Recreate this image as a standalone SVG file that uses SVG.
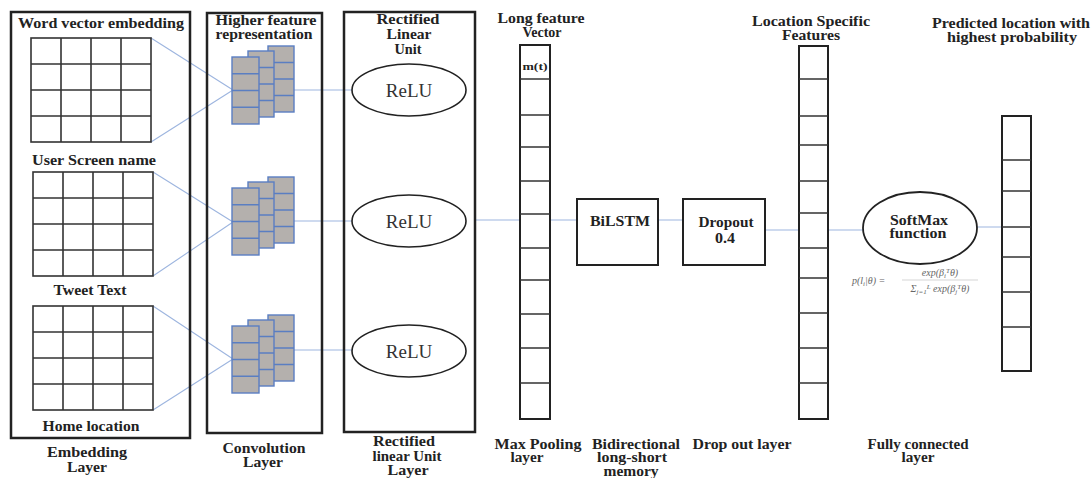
<svg xmlns="http://www.w3.org/2000/svg" width="1091" height="478" viewBox="0 0 1091 478">
<style>
.t{font-family:"Liberation Serif","Times New Roman",serif;font-weight:bold;font-size:14px;fill:#222;text-anchor:middle}
.panel{fill:none;stroke:#222;stroke-width:2.5}
.box{fill:#fff;stroke:#222;stroke-width:2}
.grid{fill:none;stroke:#333;stroke-width:1.6}
.conn{fill:none;stroke:#9db5df;stroke-width:1.1}
.fm{fill:#b4b0ad;stroke:#5a7ec2;stroke-width:1.4}
.relu{font-family:"Liberation Serif","Times New Roman",serif;font-size:19px;fill:#333;text-anchor:middle}
.f{font-family:"Liberation Serif","Times New Roman",serif;font-style:italic;font-size:10px;fill:#666}
</style>
<defs>
<g id="stack">
<rect class="fm" x="36" y="0" width="26" height="66"/>
<path class="fm" d="M36 16.5H62M36 33H62M36 49.5H62"/>
<rect class="fm" x="16" y="5" width="26" height="66"/>
<path class="fm" d="M16 21.5H42M16 38H42M16 54.5H42"/>
<rect class="fm" x="0" y="11" width="27" height="67"/>
<path class="fm" d="M0 27.75H27M0 44.5H27M0 61.25H27"/>
</g>
</defs>
<rect width="1091" height="478" fill="#fff"/>

<g id="connectors">
<path class="conn" d="M151 38L233 90M151 142L233 90"/>
<path class="conn" d="M153 172L233 222M153 276L233 222"/>
<path class="conn" d="M153 306L233 359M153 410L233 359"/>
<path class="conn" d="M294 90H352M294 221H352M294 350H352"/>
<path class="conn" d="M475 220H520M550 220H577M658 220H683"/>
<path class="conn" d="M765 230H799M828 230H863M977 227H1002"/>
</g>

<g id="embedding-layer">
<rect class="panel" x="11" y="12" width="179" height="426"/>
<text class="t" x="101" y="28" textLength="166" lengthAdjust="spacingAndGlyphs">Word  vector embedding</text>
<rect class="grid" x="31" y="38" width="120" height="104"/>
<path class="grid" d="M61 38V142M91 38V142M121 38V142M31 64H151M31 90H151M31 116H151"/>
<text class="t" x="94" y="165" textLength="124" lengthAdjust="spacingAndGlyphs">User Screen name</text>
<rect class="grid" x="33" y="172" width="120" height="104"/>
<path class="grid" d="M63 172V276M93 172V276M123 172V276M33 198H153M33 224H153M33 250H153"/>
<text class="t" x="90" y="295" textLength="73" lengthAdjust="spacingAndGlyphs">Tweet Text</text>
<rect class="grid" x="33" y="306" width="120" height="104"/>
<path class="grid" d="M63 306V410M93 306V410M123 306V410M33 332H153M33 358H153M33 384H153"/>
<text class="t" x="91" y="431" textLength="97" lengthAdjust="spacingAndGlyphs">Home location</text>
<text class="t" x="87" y="457" textLength="80" lengthAdjust="spacingAndGlyphs">Embedding</text>
<text class="t" x="87" y="472" textLength="40" lengthAdjust="spacingAndGlyphs">Layer</text>
</g>

<g id="convolution-layer">
<rect class="panel" x="207" y="13" width="115" height="420"/>
<text class="t" x="266" y="25" textLength="101" lengthAdjust="spacingAndGlyphs">Higher feature</text>
<text class="t" x="264" y="39" textLength="97" lengthAdjust="spacingAndGlyphs">representation</text>
<use href="#stack" transform="translate(232,46)"/>
<use href="#stack" transform="translate(232,177)"/>
<use href="#stack" transform="translate(232,315)"/>
<text class="t" x="264" y="453" textLength="83" lengthAdjust="spacingAndGlyphs">Convolution</text>
<text class="t" x="263" y="467" textLength="40" lengthAdjust="spacingAndGlyphs">Layer</text>
</g>

<g id="relu-layer">
<rect class="panel" x="344" y="12" width="131" height="420"/>
<text class="t" x="408" y="24" textLength="63" lengthAdjust="spacingAndGlyphs">Rectified</text>
<text class="t" x="409" y="39" textLength="45" lengthAdjust="spacingAndGlyphs">Linear</text>
<text class="t" x="408" y="54" textLength="27" lengthAdjust="spacingAndGlyphs">Unit</text>
<ellipse cx="409" cy="90" rx="57" ry="26" fill="#fff" stroke="#222" stroke-width="1.6"/>
<text class="relu" x="409" y="97">ReLU</text>
<ellipse cx="409" cy="221" rx="57" ry="26" fill="#fff" stroke="#222" stroke-width="1.6"/>
<text class="relu" x="409" y="228">ReLU</text>
<ellipse cx="409" cy="351" rx="57" ry="26" fill="#fff" stroke="#222" stroke-width="1.6"/>
<text class="relu" x="409" y="358">ReLU</text>
<text class="t" x="404" y="446" textLength="62" lengthAdjust="spacingAndGlyphs">Rectified</text>
<text class="t" x="407" y="461" textLength="69" lengthAdjust="spacingAndGlyphs">linear Unit</text>
<text class="t" x="408" y="475" textLength="41" lengthAdjust="spacingAndGlyphs">Layer</text>
</g>

<g id="max-pooling">
<text class="t" x="541" y="23" textLength="87" lengthAdjust="spacingAndGlyphs">Long feature</text>
<text class="t" x="542" y="37">Vector</text>
<rect class="box" x="520" y="45" width="30" height="374"/>
<path class="grid" d="M520 79H550M520 115H550M520 147H550M520 181H550M520 214H550M520 248H550M520 280H550M520 314H550M520 348H550M520 383H550"/>
<text class="t" x="535" y="70" style="font-size:10px" textLength="25" lengthAdjust="spacingAndGlyphs">m(t)</text>
<text class="t" x="538" y="449" textLength="87" lengthAdjust="spacingAndGlyphs">Max Pooling</text>
<text class="t" x="527" y="462" textLength="33" lengthAdjust="spacingAndGlyphs">layer</text>
</g>

<g id="bilstm">
<rect class="box" x="577" y="199" width="81" height="66"/>
<text class="t" x="620" y="226" textLength="60" lengthAdjust="spacingAndGlyphs">BiLSTM</text>
<text class="t" x="636" y="449" textLength="88" lengthAdjust="spacingAndGlyphs">Bidirectional</text>
<text class="t" x="632" y="462" textLength="70" lengthAdjust="spacingAndGlyphs">long-short</text>
<text class="t" x="631" y="476" textLength="55" lengthAdjust="spacingAndGlyphs">memory</text>
</g>

<g id="dropout">
<rect class="box" x="683" y="199" width="82" height="66"/>
<text class="t" x="726" y="227" textLength="55" lengthAdjust="spacingAndGlyphs">Dropout</text>
<text class="t" x="725" y="243" textLength="20" lengthAdjust="spacingAndGlyphs">0.4</text>
<text class="t" x="742" y="449" textLength="99" lengthAdjust="spacingAndGlyphs">Drop out layer</text>
</g>

<g id="location-features">
<text class="t" x="811" y="26" textLength="118" lengthAdjust="spacingAndGlyphs">Location Specific</text>
<text class="t" x="811" y="40" textLength="58" lengthAdjust="spacingAndGlyphs">Features</text>
<rect class="box" x="799" y="46" width="29" height="373"/>
<path class="grid" d="M799 79H828M799 116H828M799 145H828M799 181H828M799 213H828M799 248H828M799 278H828M799 313H828M799 348H828M799 383H828"/>
</g>

<g id="softmax">
<ellipse cx="920" cy="228" rx="57" ry="36" fill="#fff" stroke="#222" stroke-width="1.8"/>
<text class="t" x="919" y="225" textLength="58" lengthAdjust="spacingAndGlyphs">SoftMax</text>
<text class="t" x="918" y="238" textLength="57" lengthAdjust="spacingAndGlyphs">function</text>
<text class="f" x="852" y="284">p(l<tspan font-size="7" dy="2">i</tspan><tspan dy="-2">|θ) =</tspan></text>
<text class="f" x="940" y="276" text-anchor="middle">exp(β<tspan font-size="7" dy="2">i</tspan><tspan font-size="7" dy="-5">T</tspan><tspan dy="3">θ)</tspan></text>
<path d="M902 280H978" stroke="#bbb" stroke-width="0.6"/>
<text class="f" x="940" y="292" text-anchor="middle">Σ<tspan font-size="7" dy="2">j=1</tspan><tspan font-size="7" dy="-5">L</tspan><tspan dy="3"> exp(β</tspan><tspan font-size="7" dy="2">j</tspan><tspan font-size="7" dy="-5">T</tspan><tspan dy="3">θ)</tspan></text>
<text class="t" x="918" y="449" textLength="101" lengthAdjust="spacingAndGlyphs">Fully connected</text>
<text class="t" x="918" y="462" textLength="33" lengthAdjust="spacingAndGlyphs">layer</text>
</g>

<g id="output">
<text class="t" x="1011" y="28" textLength="158" lengthAdjust="spacingAndGlyphs">Predicted location with</text>
<text class="t" x="1012" y="42" textLength="130" lengthAdjust="spacingAndGlyphs">highest probability</text>
<rect class="box" x="1002" y="116" width="29" height="255"/>
<path class="grid" d="M1002 160H1031M1002 191H1031M1002 227H1031M1002 257H1031M1002 292H1031M1002 327H1031"/>
</g>
</svg>
